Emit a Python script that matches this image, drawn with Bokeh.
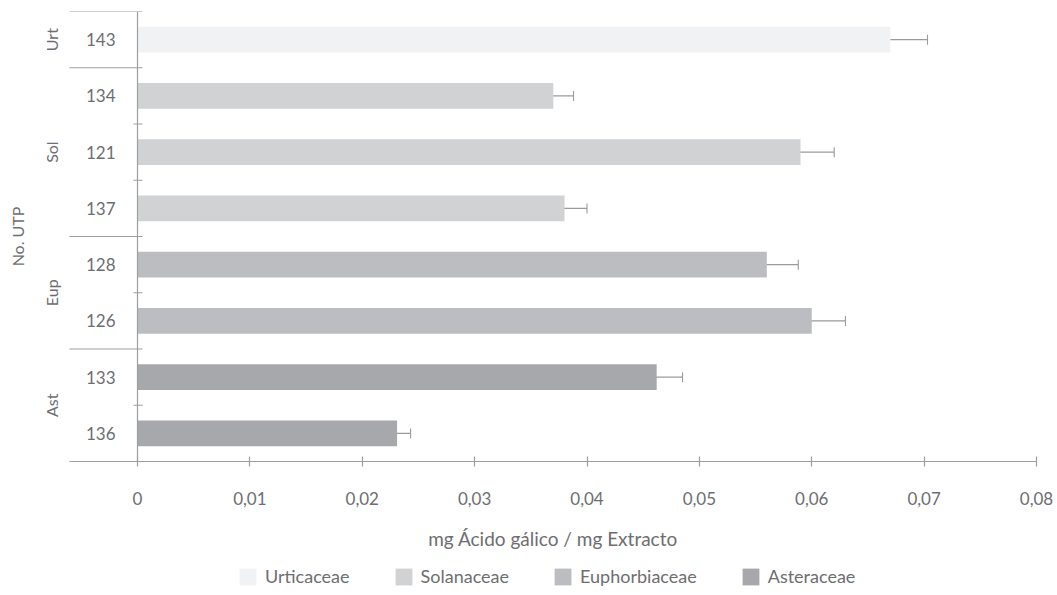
import numpy as np
from bokeh.plotting import figure
from bokeh.layouts import column
from bokeh.models import (ColumnDataSource, FactorRange, Range1d, Whisker, TeeHead,
                          FixedTicker, CustomJSTickFormatter, Legend, LegendItem)
from bokeh.core.properties import value
from bokeh.embed import file_html
from bokeh.resources import INLINE

# Plant families, their short codes and bar colours
families = ["Urticaceae", "Solanaceae", "Euphorbiaceae", "Asteraceae"]
family_codes = ["Urt", "Sol", "Eup", "Ast"]
family_colors = ["#f1f2f3", "#d1d2d4", "#bcbdc0", "#a7a8ab"]

# Samples, listed from top to bottom
sample_family = ["Urt", "Sol", "Sol", "Sol", "Eup", "Eup", "Ast", "Ast"]
sample_ids = ["143", "134", "121", "137", "128", "126", "133", "136"]
gallic = [0.067, 0.037, 0.059, 0.038, 0.056, 0.060, 0.0462, 0.0231]
gallic_err = [0.0033, 0.0018, 0.0030, 0.0020, 0.0028, 0.0030, 0.0023, 0.0012]

x_ticks = [0, 0.01, 0.02, 0.03, 0.04, 0.05, 0.06, 0.07, 0.08]
x_title = "mg Ácido gálico / mg Extracto"
y_title = "No. UTP"

TEXT = "#6d6e71"
LINE = "#9d9ea0"
FONT = "Lato"

# categorical factors go bottom -> top
factors = [(f, s) for f, s in zip(sample_family, sample_ids)][::-1]

x_end = x_ticks[-1]
px = x_end / 899.0                 # data units per screen pixel
x_start = -132 * px                # room for the axis labels inside the frame
x_axis_start = -68 * px            # where the value axis line begins

p = figure(
    y_range=FactorRange(*factors, factor_padding=0, group_padding=0, range_padding=0),
    x_range=Range1d(x_start, x_end),
    frame_width=1031, frame_height=450,
    min_border_left=5, min_border_right=21, min_border_top=11, min_border_bottom=60,
    output_backend="svg", toolbar_location=None,
)
p.outline_line_color = None
p.xgrid.visible = False
p.ygrid.visible = False

# bars, one renderer per family
for code, col in zip(family_codes, family_colors):
    idx = [i for i, f in enumerate(sample_family) if f == code]
    src = ColumnDataSource(dict(
        y=[(sample_family[i], sample_ids[i]) for i in idx],
        v=[gallic[i] for i in idx],
    ))
    p.hbar(y="y", left=0, right="v", height=0.46, source=src,
           fill_color=col, line_color=None)

# error bars
err_src = ColumnDataSource(dict(
    y=[(f, s) for f, s in zip(sample_family, sample_ids)],
    lower=[v - e for v, e in zip(gallic, gallic_err)],
    upper=[v + e for v, e in zip(gallic, gallic_err)],
))
whisk = Whisker(base="y", lower="lower", upper="upper", dimension="width", source=err_src,
                line_color="#9a9b9d", line_width=1.1,
                upper_head=TeeHead(size=10, line_color="#9a9b9d", line_width=1.1),
                lower_head=TeeHead(size=10, line_color="#9a9b9d", line_width=1.1))
p.add_layout(whisk)

# group separators (top edge and between families) and ticks between samples
sep_y, tick_y = [], []
for i, (f, s) in enumerate(zip(sample_family, sample_ids)):
    if i == 0 or sample_family[i - 1] != f:
        sep_y.append((f, s, 0.5))
    else:
        tick_y.append((f, s, 0.5))
x_in = 5 * px
x_out = -4 * px
p.segment(x0=x_axis_start, x1=x_in, y0="y", y1="y",
          source=ColumnDataSource(dict(y=sep_y)), line_color=LINE, line_width=1.2)
p.segment(x0=x_out, x1=x_in, y0="y", y1="y",
          source=ColumnDataSource(dict(y=tick_y)), line_color=LINE, line_width=1.2)

# category axis drawn at x = 0: sample numbers, family codes and title
yax = p.yaxis[0]
yax.fixed_location = 0
yax.axis_line_color = LINE
yax.axis_line_width = 1.2
yax.major_tick_line_color = None
yax.major_tick_in = 0
yax.major_tick_out = 0
yax.separator_line_color = None
yax.major_label_standoff = 22
yax.major_label_text_font = FONT
yax.major_label_text_font_size = "17px"
yax.major_label_text_color = TEXT
yax.group_text_font = FONT
yax.group_text_font_size = "16px"
yax.group_text_font_style = "normal"
yax.group_text_color = TEXT
yax.axis_label = y_title
yax.axis_label_standoff = 12
yax.axis_label_text_font = FONT
yax.axis_label_text_font_size = "16px"
yax.axis_label_text_font_style = "normal"
yax.axis_label_text_color = TEXT

xax = p.xaxis[0]
xax.bounds = (x_axis_start, x_end)
xax.ticker = FixedTicker(ticks=x_ticks)
xax.formatter = CustomJSTickFormatter(
    code="return tick == 0 ? '0' : tick.toFixed(2).replace('.', ',');")
xax.axis_line_color = LINE
xax.axis_line_width = 1.2
xax.major_tick_line_color = LINE
xax.major_tick_line_width = 1.2
xax.major_tick_in = 5
xax.major_tick_out = 5
xax.minor_tick_line_color = None
xax.major_label_standoff = 25
xax.major_label_text_font = FONT
xax.major_label_text_font_size = "17px"
xax.major_label_text_color = TEXT

# strip under the chart: value axis title and the family legend
foot = figure(
    x_range=p.x_range, y_range=Range1d(0, 74),
    frame_width=1031, frame_height=74,
    min_border_left=5, min_border_right=21, min_border_top=0, min_border_bottom=0,
    x_axis_location=None, y_axis_location=None,
    output_backend="svg", toolbar_location=None,
)
foot.outline_line_color = None
foot.xgrid.visible = False
foot.ygrid.visible = False

foot.text(x=[(x_axis_start + x_end) / 2], y=[57], text=[x_title],
          text_align="center", text_baseline="middle",
          text_font=value(FONT), text_font_size="19px", text_color=TEXT)

# legend swatches: renderers that hold no drawable point, only their colour
legend_items = []
for fam, col in zip(families, family_colors):
    swatch = foot.rect(x=np.array([np.nan]), y=np.array([np.nan]), width=1, height=1,
                       fill_color=col, line_color=None)
    legend_items.append(LegendItem(label=fam, renderers=[swatch]))

legend = Legend(items=legend_items, orientation="horizontal", location=(232, 8),
                glyph_width=21, glyph_height=21, label_height=21, label_standoff=7,
                spacing=43, padding=0, margin=0, border_line_color=None,
                background_fill_alpha=0,
                label_text_font=FONT, label_text_font_size="18px", label_text_color=TEXT)
foot.add_layout(legend)

layout = column(p, foot, spacing=0)
open("out.html", "w").write(file_html(layout, INLINE))
